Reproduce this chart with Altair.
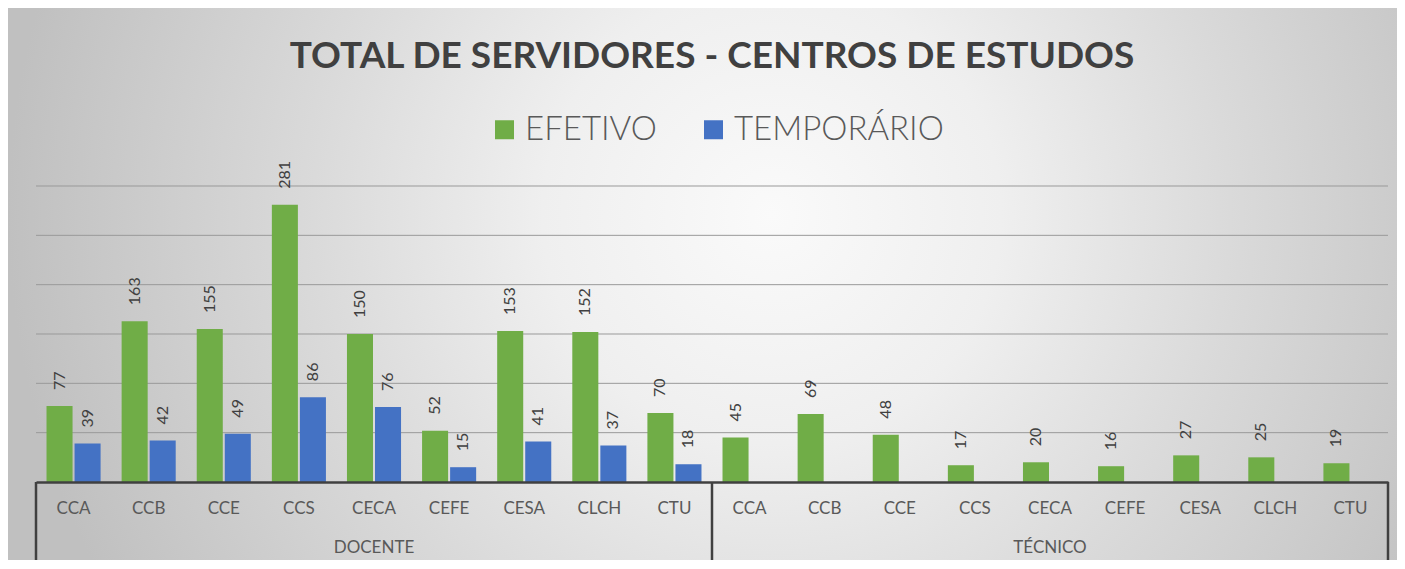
import altair as alt
import pandas as pd

centers = ["CCA", "CCB", "CCE", "CCS", "CECA", "CEFE", "CESA", "CLCH", "CTU"]
groups = ["DOCENTE", "TÉCNICO"]
series = ["EFETIVO", "TEMPORÁRIO"]
docente_efetivo = [77, 163, 155, 281, 150, 52, 153, 152, 70]
docente_temporario = [39, 42, 49, 86, 76, 15, 41, 37, 18]
tecnico_efetivo = [45, 69, 48, 17, 20, 16, 27, 25, 19]
tecnico_temporario = [None, None, None, None, None, None, None, None, None]
grid_values = [50, 100, 150, 200, 250, 300]

W, H = 1352, 296
PAD = {"left": 28, "top": 178, "right": 9, "bottom": 78}

keys = [f"{g}|{c}" for g in groups for c in centers]
values = {
    ("DOCENTE", "EFETIVO"): docente_efetivo,
    ("DOCENTE", "TEMPORÁRIO"): docente_temporario,
    ("TÉCNICO", "EFETIVO"): tecnico_efetivo,
    ("TÉCNICO", "TEMPORÁRIO"): tecnico_temporario,
}
rows = []
for g in groups:
    for s in series:
        for c, v in zip(centers, values[(g, s)]):
            if v is not None:
                rows.append({"key": f"{g}|{c}", "series": s, "value": v})
df = pd.DataFrame(rows)

x_axis = alt.Axis(
    title=None,
    labelExpr="split(datum.label, '|')[1]",
    ticks=False,
    grid=False,
    labelAngle=0,
    labelFont="Lato",
    labelFontSize=17,
    labelColor="#595959",
    labelPadding=18,
    domainColor="#404040",
    domainWidth=2.5,
    zindex=1,
)


def x_scale():
    return alt.Scale(domain=keys, paddingInner=0, paddingOuter=0)


x_enc = alt.X("key:N", sort=keys, scale=x_scale(), axis=x_axis)
y_scale = alt.Scale(domain=[0, 300], nice=False)
y_enc = alt.Y("value:Q", scale=y_scale, axis=None)
xoff = alt.XOffset(
    "series:N",
    scale=alt.Scale(domain=series, paddingInner=0.0714, paddingOuter=0.375),
)

bg = alt.Chart(pd.DataFrame({"a": [0]})).mark_rect(
    color=alt.RadialGradient(
        gradient="radial",
        x1=0.55, y1=0.45, r1=0,
        x2=0.55, y2=0.45, r2=0.55,
        stops=[
            alt.GradientStop(color="#fafafa", offset=0),
            alt.GradientStop(color="#efefef", offset=0.3),
            alt.GradientStop(color="#dadada", offset=0.6),
            alt.GradientStop(color="#c0c0c0", offset=1),
        ],
    )
).encode(
    x=alt.value(-PAD["left"]),
    x2=alt.value(W + PAD["right"]),
    y=alt.value(-PAD["top"]),
    y2=alt.value(H + PAD["bottom"]),
)

grid = alt.Chart(pd.DataFrame({"value": grid_values})).mark_rule(
    color="#999999", strokeWidth=1
).encode(y=y_enc, x=alt.value(0), x2=alt.value(W))

bars = alt.Chart(df).mark_bar().encode(
    x=x_enc,
    xOffset=xoff,
    y=y_enc,
    color=alt.Color(
        "series:N",
        scale=alt.Scale(domain=series, range=["#70AD47", "#4472C4"]),
        legend=alt.Legend(
            orient="none",
            legendX=452,
            legendY=-73,
            direction="horizontal",
            title=None,
            symbolType="square",
            symbolSize=361,
            symbolStrokeWidth=0,
            symbolOpacity=1,
            labelFont="Lato",
            labelFontSize=33,
            labelFontWeight=300,
            labelColor="#595959",
            labelOffset=4,
            labelLimit=400,
            columnPadding=40,
            padding=0,
        ),
    ),
)

labels = alt.Chart(df).mark_text(
    angle=270, align="left", baseline="middle", dx=16,
    font="Lato", fontSize=16, color="#404040",
).encode(x=x_enc, xOffset=xoff, y=y_enc, text=alt.Text("value:Q"))

group_df = pd.DataFrame({"key": [f"{g}|{centers[4]}" for g in groups], "label": groups})
group_text = alt.Chart(group_df).mark_text(
    font="Lato", fontSize=17, color="#595959", baseline="middle"
).encode(x=x_enc, y=alt.value(H + 66), text="label:N")

left_edges = pd.DataFrame({"key": [f"{g}|{centers[0]}" for g in groups]})
right_edge = pd.DataFrame({"key": [f"{groups[-1]}|{centers[-1]}"]})
x_left = alt.X("key:N", sort=keys, bandPosition=0, scale=x_scale(), axis=x_axis)
x_right = alt.X("key:N", sort=keys, bandPosition=1, scale=x_scale(), axis=x_axis)
rules_l = alt.Chart(left_edges).mark_rule(color="#404040", strokeWidth=2.5).encode(
    x=x_left, y=alt.value(H), y2=alt.value(H + 95))
rules_r = alt.Chart(right_edge).mark_rule(color="#404040", strokeWidth=2.5).encode(
    x=x_right, y=alt.value(H), y2=alt.value(H + 95))

chart = alt.layer(bg, grid, bars, labels, group_text, rules_l, rules_r).properties(
    width=W,
    height=H,
    autosize=alt.AutoSizeParams(type="none"),
    padding=PAD,
    title=alt.TitleParams(
        "TOTAL DE SERVIDORES - CENTROS DE ESTUDOS",
        font="Lato", fontSize=37, fontWeight="bold", color="#404040",
        anchor="middle", baseline="alphabetic", offset=-97,
    ),
).configure_view(stroke=None)

chart.save("out.html", embed_options={"renderer": "svg", "actions": False})
